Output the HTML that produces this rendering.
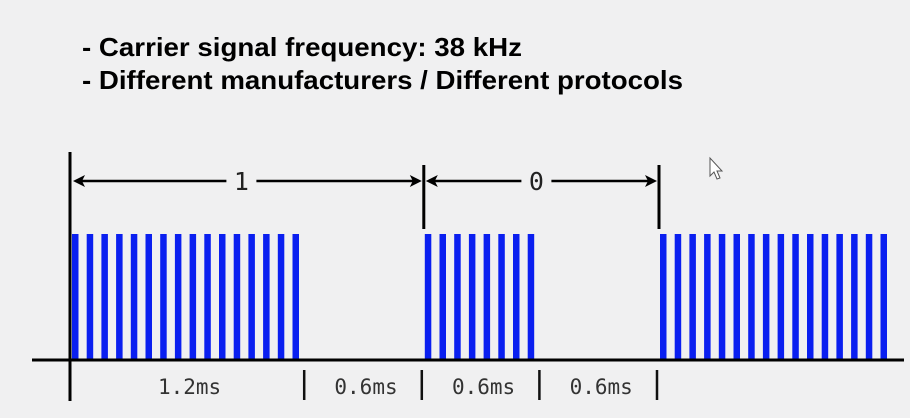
<!DOCTYPE html>
<html><head><meta charset="utf-8"><style>
html,body{margin:0;padding:0;background:#f0f0f1;}
svg{display:block;}
</style></head><body>
<svg id="chart" width="910" height="418" viewBox="0 0 910 418" xmlns="http://www.w3.org/2000/svg">
<rect width="910" height="418" fill="#f0f0f1"/>
<text x="82" y="56" font-family="'Liberation Sans', sans-serif" font-weight="bold" font-size="26" fill="#000" textLength="440" lengthAdjust="spacingAndGlyphs">- Carrier signal frequency: 38 kHz</text>
<text x="82" y="89" font-family="'Liberation Sans', sans-serif" font-weight="bold" font-size="26" fill="#000" textLength="601" lengthAdjust="spacingAndGlyphs">- Different manufacturers / Different protocols</text>
<path d="M710 158 L710 176 L714 172 L717 179 L720 178 L717 171 L722 171 Z" fill="#fff" stroke="#555" stroke-width="1"/>
<g id="marks"></g>
</svg>
<script>
const burstStarts = [0, 1.8, 3.0];
const burstEnds = [1.2, 2.4, 4.2];
const pulsePeriod = 0.075;
const tickTimes = [0, 1.2, 1.8, 2.4, 3.0];
const segLabels = ["1.2ms", "0.6ms", "0.6ms", "0.6ms"];
const bitStarts = [0, 1.8];
const bitEnds = [1.8, 3.0];
const bitLabels = ["1", "0"];

const NS = "http://www.w3.org/2000/svg";
const g = document.getElementById("marks");
const x = t => 72 + t * 196;
const yTop = 234, yBase = 359;
function mk(tag, attrs) { const e = document.createElementNS(NS, tag); for (const k in attrs) e.setAttribute(k, attrs[k]); g.appendChild(e); return e; }

burstStarts.forEach((s, i) => {
  const n = Math.round((burstEnds[i] - s) / pulsePeriod);
  for (let j = 0; j < n; j++) {
    const t = s + j * pulsePeriod;
    const r = mk("rect", { x: x(t), y: yTop, width: 6.5, height: yBase - yTop, fill: "#0a1ff0" });
    
    
  }
});

const ax = mk("line", { x1: 32, y1: 360, x2: 904, y2: 360, stroke: "#000", "stroke-width": 3 });



const vl = mk("line", { x1: 70, y1: 152, x2: 70, y2: 401, stroke: "#000", "stroke-width": 3 });



tickTimes.forEach((t, i) => {
  if (i > 0) {
    const tk = mk("line", { x1: x(t) - 3, y1: 370, x2: x(t) - 3, y2: 400, stroke: "#111", "stroke-width": 2.5 });
    
    
  }
  if (i < segLabels.length) {
    const tx = mk("text", { x: (x(t) + x(tickTimes[i + 1])) / 2, y: 394, "text-anchor": "middle", "font-family": "'DejaVu Sans Mono', 'Liberation Mono', monospace", "font-size": 21, fill: "#333" });
    tx.textContent = segLabels[i];
    
    
  }
});

const ay = 181;
bitStarts.forEach((s, i) => {
  const x1 = x(s) + 1, x2 = x(bitEnds[i]) - 3;
  const mid = (x(s) + x(bitEnds[i])) / 2 - (i === 0 ? 8 : 7);
  const l1 = mk("line", { x1: x1 + 4, y1: ay, x2: mid - 14, y2: ay, stroke: "#000", "stroke-width": 2.5 });
  
  
  const l2 = mk("line", { x1: mid + 16, y1: ay, x2: x2 - 4, y2: ay, stroke: "#000", "stroke-width": 2.5 });
  
  
  const h1 = mk("path", { d: `M${x1} ${ay} L${x1 + 12} ${ay - 6} L${x1 + 9} ${ay} L${x1 + 12} ${ay + 6} Z`, fill: "#000" });
  
  
  const h2 = mk("path", { d: `M${x2} ${ay} L${x2 - 12} ${ay - 6} L${x2 - 9} ${ay} L${x2 - 12} ${ay + 6} Z`, fill: "#000" });
  
  
  const lb = mk("text", { x: mid + 1, y: ay + 9, "text-anchor": "middle", "font-family": "'DejaVu Sans Mono', 'Liberation Mono', monospace", "font-size": 25, fill: "#222" });
  lb.textContent = bitLabels[i];
  
  
  const vm = mk("line", { x1: x(bitEnds[i]) - 1, y1: 165, x2: x(bitEnds[i]) - 1, y2: 229, stroke: "#000", "stroke-width": 3 });
  
  
});
</script>
</body></html>
